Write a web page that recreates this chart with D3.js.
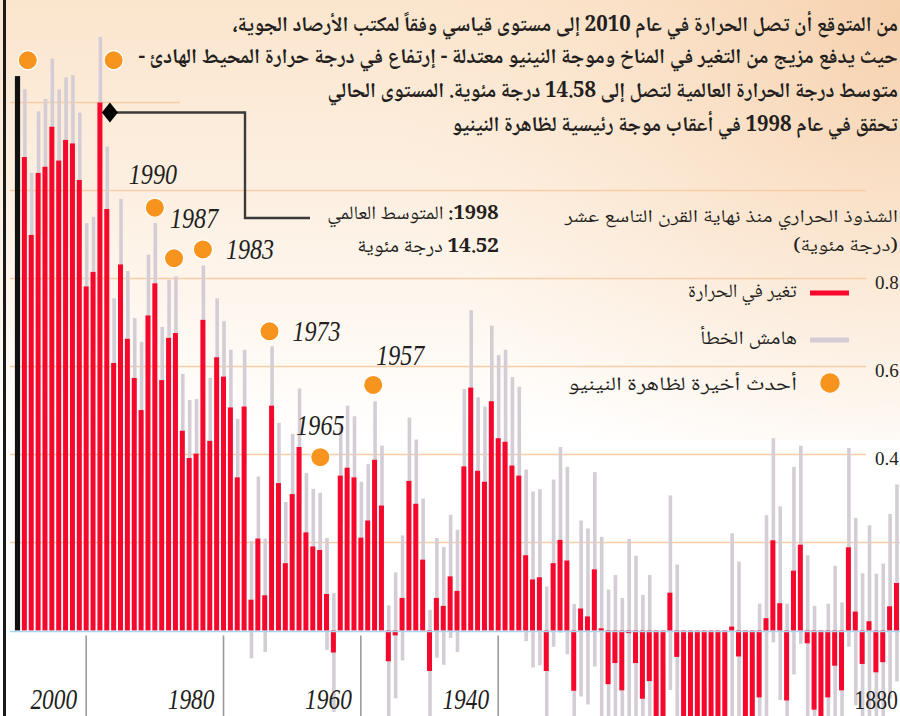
<!DOCTYPE html>
<html><head><meta charset="utf-8">
<script src="https://cdn.jsdelivr.net/npm/d3@7/dist/d3.min.js"></script>
<style>html,body{margin:0;padding:0;background:#fff;overflow:hidden}svg{display:block}</style>
</head><body>
<svg id="chart" width="900" height="716"></svg>
<script>
// ---------------- DATA ----------------
const years = d3.range(2009, 1879, -1); // 2009 ... 1880
const anomaly = [
 1.076, 0.899, 1.040, 1.054, 1.145, 1.068, 1.115, 1.107, 1.024, 0.782, // 2009-2000
 0.815, 1.200, 0.958, 0.608, 0.832, 0.663, 0.574, 0.501, 0.716, 0.789, // 1999-1990
 0.569, 0.665, 0.676, 0.454, 0.392, 0.402, 0.706, 0.431, 0.621, 0.577, // 1989-1980
 0.507, 0.348, 0.509, 0.070, 0.209, 0.080, 0.511, 0.335, 0.153, 0.310, // 1979-1970
 0.417, 0.223, 0.191, 0.183, 0.083, -0.050, 0.352, 0.370, 0.348, 0.211, // 1969-1960
 0.250, 0.388, 0.284, -0.070, -0.011, 0.074, 0.340, 0.288, 0.161, -0.092, // 1959-1950
 0.074, 0.056, 0.123, 0.090, 0.373, 0.552, 0.363, 0.338, 0.521, 0.437, // 1949-1940
 0.429, 0.375, 0.352, 0.171, 0.116, 0.121, -0.092, 0.153, 0.206, 0.159, // 1939-1930
 -0.137, 0.050, 0.032, 0.139, 0.005, -0.122, -0.074, -0.136, -0.006, -0.074, // 1929-1920
 -0.155, -0.115, -0.320, -0.300, 0.086, -0.060, -0.350, -0.380, -0.360, -0.350, // 1919-1910
 -0.400, -0.330, -0.300, 0.009, -0.059, -0.300, -0.280, -0.152, 0.028, 0.205, // 1909-1900
 0.062, -0.159, 0.136, 0.195, -0.029, -0.180, -0.280, -0.152, -0.080, -0.136, // 1899-1890
 0.189, 0.043, -0.076, 0.021, -0.095, -0.072, 0.055, 0.108, 0.050, 0.000  // 1889-1880
];
const errorMargin = [
 0.154, 0.141, 0.140, 0.154, 0.155, 0.162, 0.142, 0.155, 0.153, 0.144,
 0.125, 0.149, 0.142, 0.147, 0.149, 0.154, 0.136, 0.155, 0.138, 0.137,
 0.121, 0.132, 0.129, 0.129, 0.132, 0.124, 0.124, 0.143, 0.134, 0.126,
 0.131, 0.133, 0.129, 0.133, 0.141, 0.129, 0.135, 0.137, 0.139, 0.137,
 0.133, 0.135, 0.131, 0.130, 0.127, 0.135, 0.110, 0.141, 0.139, 0.127,
 0.128, 0.133, 0.136, 0.127, 0.143, 0.142, 0.144, 0.146, 0.139, 0.139,
 0.136, 0.134, 0.140, 0.139, 0.176, 0.176, 0.167, 0.171, 0.172, 0.189,
 0.209, 0.201, 0.202, 0.195, 0.200, 0.200, 0.192, 0.190, 0.211, 0.213,
 0.197, 0.200, 0.200, 0.221, 0.208, 0.215, 0.200, 0.210, 0.214, 0.244,
 0.236, 0.241, 0.220, 0.220, 0.221, 0.210, 0.220, 0.220, 0.220, 0.220,
 0.220, 0.220, 0.220, 0.212, 0.216, 0.220, 0.220, 0.213, 0.234, 0.232,
 0.220, 0.220, 0.236, 0.225, 0.200, 0.236, 0.220, 0.213, 0.227, 0.200,
 0.226, 0.213, 0.206, 0.218, 0.224, 0.224, 0.210, 0.224, 0.200, 0.200
];
const projectionYears = [2010];
const projectionValues = [1.26];

const ninoYears  = [2008.5, 1996, 1990, 1987.2, 1983, 1973.3, 1965.9, 1958.2];
const ninoLevels = [1.296, 1.296, 0.961, 0.846, 0.866, 0.680, 0.394, 0.558];
const ninoLabels = ["", "", "1990", "1987", "1983", "1973", "1965", "1957"];

const gridValues = [1.2, 1.0, 0.8, 0.6, 0.4, 0.2];
const axisTickValues = [0.8, 0.6, 0.4];
const axisTickLabels = ["0.8", "0.6", "0.4"];
const yearTicks = [2000, 1980, 1960, 1940];
const yearTickLabels = ["2000", "1980", "1960", "1940"];
const edgeYear = 1880;

const titleLines = [
 "من المتوقع أن تصل الحرارة في عام 2010 إلى مستوى قياسي وفقاً لمكتب الأرصاد الجوية،",
 "حيث يدفع مزيج من التغير في المناخ وموجة النينيو معتدلة - إرتفاع في درجة حرارة المحيط الهادئ -",
 "متوسط درجة الحرارة العالمية لتصل إلى 14.58 درجة مئوية. المستوى الحالي",
 "تحقق في عام 1998 في أعقاب موجة رئيسية لظاهرة النينيو"
];
const subtitleLines = ["الشذوذ الحراري منذ نهاية القرن التاسع عشر", "(درجة مئوية)"];
const legendLabels = ["تغير في الحرارة", "هامش الخطأ", "أحدث أخيرة لظاهرة النينيو"];
const noteYear = 1998;
const noteLines = [["1998:", " المتوسط العالمي"], ["14.52", " درجة مئوية"]];

// ---------------- LAYOUT ----------------
const W = 900, H = 716;
const AR = "'Noto Naskh Arabic','Noto Sans Arabic','DejaVu Sans',sans-serif";
const SERIF = "'Liberation Serif','Times New Roman',serif";
const INK = "#231f20";
const RED = "#f5082c", GREY = "#d5cdd5", ORANGE = "#f7941e", GRID = "#f8cda6";

const svg = d3.select("#chart");
const x = d3.scaleLinear().domain([2010, 1880]).range([17.5, 910.2]);
const y = d3.scaleLinear().domain([0, 1.2]).range([630.5, 102.5]);

// background
const defs = svg.append("defs");
const lg = defs.append("linearGradient").attr("id","bg").attr("x1",0).attr("y1",0).attr("x2",0).attr("y2",1);
lg.append("stop").attr("offset","0%").attr("stop-color","#fbe5cd");
lg.append("stop").attr("offset","30%").attr("stop-color","#fdf1e4");
lg.append("stop").attr("offset","62%").attr("stop-color","#ffffff");
lg.append("stop").attr("offset","100%").attr("stop-color","#ffffff");
const rg = defs.append("radialGradient").attr("id","glow").attr("gradientUnits","userSpaceOnUse")
  .attr("cx",900).attr("cy",20).attr("r",520);
rg.append("stop").attr("offset","0%").attr("stop-color","#f5cda8").attr("stop-opacity",0.85);
rg.append("stop").attr("offset","100%").attr("stop-color","#fbe5cd").attr("stop-opacity",0);
svg.append("rect").attr("width",W).attr("height",H).attr("fill","url(#bg)");
svg.append("rect").attr("width",W).attr("height",440).attr("fill","url(#glow)");

// gridlines
svg.append("g").selectAll("line").data(gridValues).join("line")
  .attr("x1", 10)
  .attr("x2", d => d === 1.2 ? 180 : (d === 0.2 ? 900 : 866))
  .attr("y1", d => y(d)).attr("y2", d => y(d))
  .attr("stroke", GRID).attr("stroke-width", 1.4);

// data rows
const rows = years.map((yr, i) => ({year: yr, v: anomaly[i], e: errorMargin[i]}));

// error bars
svg.append("g").selectAll("rect").data(rows).join("rect")
  .attr("x", d => x(d.year) - 1.3).attr("width", 3.6)
  .attr("y", d => y(d.v + d.e)).attr("height", d => y(d.v - d.e) - y(d.v + d.e))
  .attr("fill", GREY);

// anomaly bars
svg.append("g").selectAll("rect").data(rows).join("rect")
  .attr("x", d => x(d.year) - 2.5).attr("width", 5)
  .attr("y", d => y(Math.max(0, d.v))).attr("height", d => Math.abs(y(d.v) - y(0)))
  .attr("fill", RED);

// projection bar (2010)
svg.append("g").selectAll("rect").data(projectionYears).join("rect")
  .attr("x", (d) => x(d) - 2.6).attr("width", 5.2)
  .attr("y", (d, i) => y(projectionValues[i])).attr("height", (d, i) => y(0) - y(projectionValues[i]))
  .attr("fill", "#111");

// baseline
svg.append("line").attr("x1", 10).attr("x2", W).attr("y1", y(0) + 1).attr("y2", y(0) + 1)
  .attr("stroke", "#a9d8ef").attr("stroke-width", 1.4);

// year ticks & labels
const yt = svg.append("g");
yt.selectAll("line").data(yearTicks).join("line")
  .attr("x1", d => x(d)).attr("x2", d => x(d)).attr("y1", y(0) + 5).attr("y2", H)
  .attr("stroke", "#9a9a9a").attr("stroke-width", 1.6);
yt.selectAll("text").data(yearTicks).join("text")
  .attr("transform", d => `translate(${x(d) - 9},709) scale(0.78,1)`)
  .attr("text-anchor", "end").attr("font-family", SERIF).attr("font-style", "italic")
  .attr("font-size", 30).attr("fill", INK).text((d, i) => yearTickLabels[i]);
svg.append("text").attr("transform", `translate(898,709) scale(0.78,1)`)
  .attr("text-anchor", "end")
  .attr("font-family", SERIF).attr("font-size", 28).attr("fill", INK).text(String(edgeYear));

// left frame
svg.append("line").attr("x1", 4.5).attr("x2", 4.5).attr("y1", 0).attr("y2", H)
  .attr("stroke", "#1a1a1a").attr("stroke-width", 3);

// right axis labels
svg.append("g").selectAll("text").data(axisTickValues).join("text")
  .attr("x", 875).attr("y", d => y(d) + 10).attr("font-family", SERIF).attr("font-size", 19)
  .attr("fill", INK).text((d, i) => axisTickLabels[i]);

// El Nino dots
const labelPlacement = {"1990": [-26, -24], "1987": [-4, -30], "1983": [23, 10], "1973": [23, 10], "1965": [-24, -22], "1957": [3, -20]};
svg.append("g").selectAll("circle").data(ninoYears).join("circle")
  .attr("cx", d => x(d)).attr("cy", (d, i) => y(ninoLevels[i])).attr("r", 9.6)
  .attr("fill", ORANGE).attr("stroke", "#fff").attr("stroke-width", 1.2);
svg.append("g").selectAll("text").data(ninoYears.map((d, i) => ({yr: d, lv: ninoLevels[i], lab: ninoLabels[i]})).filter(d => d.lab))
  .join("text")
  .attr("transform", d => { const o = labelPlacement[d.lab]; return `translate(${x(d.yr) + o[0]},${y(d.lv) + o[1]}) scale(0.83,1)`; })
  .attr("font-family", SERIF).attr("font-style", "italic").attr("font-size", 29).attr("fill", INK)
  .text(d => d.lab);

// 1998 annotation connector
const ni = years.indexOf(noteYear);
const dx = x(noteYear) + 10, dy = y(anomaly[ni]) + 10;
svg.append("path").attr("d", `M${dx},${dy} H245 V218 H310`).attr("fill", "none")
  .attr("stroke", "#3a3a3a").attr("stroke-width", 2.4);
svg.append("path").attr("d", `M${dx - 8},${dy} L${dx},${dy - 10} L${dx + 8},${dy} L${dx},${dy + 10} Z`)
  .attr("fill", "#000");

// Arabic text helper: right-aligned and fitted to a measured width
function arText(parts, right, base, size, width, weight) {
  const t = svg.append("text").attr("direction", "rtl").style("unicode-bidi", "embed")
    .attr("font-family", AR).attr("font-size", size).attr("fill", INK)
    .attr("font-weight", weight || "normal");
  if (Array.isArray(parts)) {
    t.append("tspan").attr("font-weight", "bold").text(parts[0]);
    t.append("tspan").text(parts[1]);
  } else t.text(parts);
  const bb = t.node().getBBox();
  const sx = width ? width / bb.width : 1;
  t.attr("transform", `translate(${right},${base}) scale(${sx},1) translate(${-(bb.x + bb.width)},0)`);
  return t;
}

// title
const titleBase = [31, 63, 97, 131], titleWidth = [666, 760, 571, 446];
titleLines.forEach((s, i) => arText(s, 898, titleBase[i], 21, titleWidth[i], "bold"));
// subtitle
arText(subtitleLines[0], 898, 222, 18, 335);
arText(subtitleLines[1], 898, 251, 18, 105);
// note
arText(noteLines[0], 499, 219, 19, 172);
arText(noteLines[1], 499, 252, 19, 142);

// legend
const lgY = [293, 340, 383];
svg.append("line").attr("x1", 810).attr("x2", 849).attr("y1", lgY[0]).attr("y2", lgY[0]).attr("stroke", RED).attr("stroke-width", 5);
svg.append("line").attr("x1", 810).attr("x2", 849).attr("y1", lgY[1]).attr("y2", lgY[1]).attr("stroke", GREY).attr("stroke-width", 5);
svg.append("circle").attr("cx", 830).attr("cy", lgY[2]).attr("r", 9.7).attr("fill", ORANGE);
arText(legendLabels[0], 797, 297, 19, 109);
arText(legendLabels[1], 797, 344, 19, 97);
arText(legendLabels[2], 797, 390, 19, 229);
</script>
</body></html>
